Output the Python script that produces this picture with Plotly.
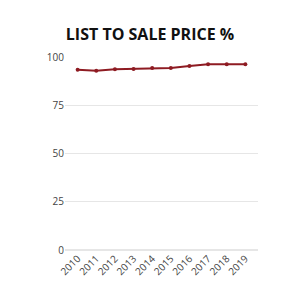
import plotly.graph_objects as go

years = ["2010", "2011", "2012", "2013", "2014", "2015", "2016", "2017", "2018", "2019"]
ratio = [93.8, 93.4, 94.1, 94.3, 94.8, 94.8, 95.8, 96.7, 96.7, 96.7]
y_ticks = [0, 25, 50, 75, 100]

fig = go.Figure(go.Scatter(
    x=years, y=ratio, mode="lines+markers",
    line=dict(color="#8e1b22", width=2),
    marker=dict(color="#8e1b22", size=4),
))
fig.update_layout(
    width=300, height=300,
    margin=dict(l=65, r=42, t=57, b=50),
    paper_bgcolor="white", plot_bgcolor="white",
    title=dict(text="<b>LIST TO SALE PRICE %</b>", x=0.5, xanchor="center",
               y=1 - 34/300, yanchor="middle",
               font=dict(family="Open Sans", size=16, color="#111111", weight=800)),
    showlegend=False,
)
fig.update_xaxes(type="category", tickangle=-45, showgrid=False, showline=False,
                 tickfont=dict(family="Open Sans", size=10, color="#444444"))
fig.update_yaxes(range=[0, 100.5], tickvals=y_ticks, showgrid=True, gridcolor="#e6e6e6",
                 zeroline=True, zerolinecolor="#e6e6e6", ticks="", ticklen=0,
                 tickfont=dict(family="Open Sans", size=10, color="#444444"))
fig.write_html("out.html")
